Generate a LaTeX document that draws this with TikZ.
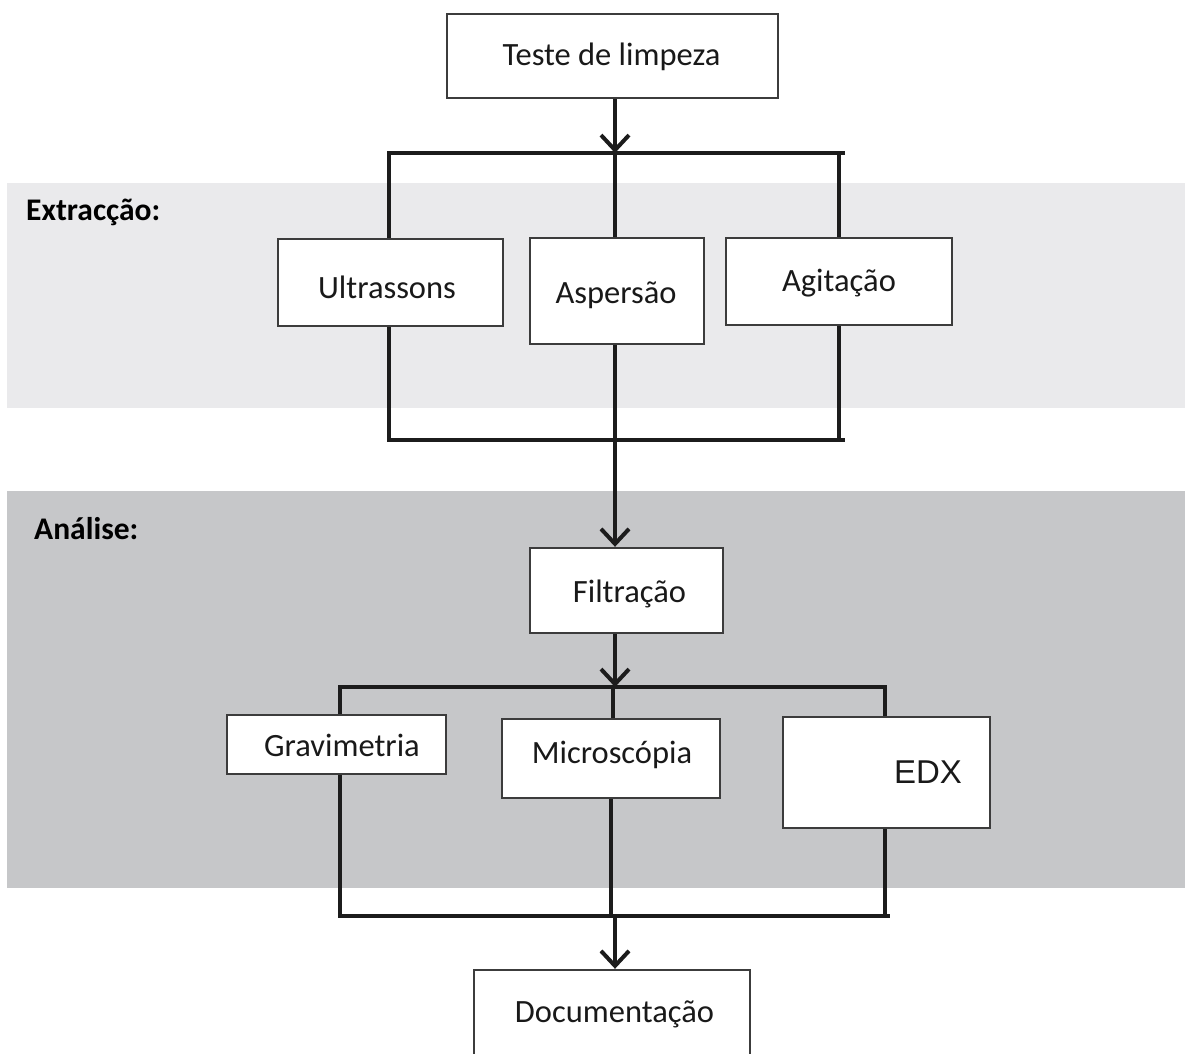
\documentclass[tikz,border=0pt]{standalone}
\usepackage{fontspec}
\setmainfont{Carlito}
\newfontfamily\edxfont{Liberation Sans}
\usetikzlibrary{arrows.meta}
\definecolor{bandlight}{HTML}{EAEAEC}
\definecolor{banddark}{HTML}{C6C7C9}
\definecolor{boxline}{HTML}{3C3C3C}
\definecolor{wireline}{HTML}{1C1C1C}

\begin{document}
\begin{tikzpicture}[x=1pt,y=-1pt,
  stepbox/.style={draw=boxline, line width=2.4pt, fill=white, inner sep=0pt},
  wire/.style={line width=4pt, draw=wireline, line join=miter},
  flow/.style={line width=4pt, draw=wireline, -{Straight Barb[length=15pt,width=28pt]}},
  boxtext/.style={font=\fontsize{32.5}{38}\selectfont, inner sep=0pt, anchor=center, text=black!90},
  bandlabel/.style={font=\fontsize{31.5}{37}\selectfont\bfseries, inner sep=0pt, anchor=west}]

\useasboundingbox (0,0) rectangle (1185,1053);
\clip (0,0) rectangle (1185,1053);

% background bands
\fill[bandlight] (7,183) rectangle (1185,408);
\fill[banddark] (7,491) rectangle (1185,888);

\node[bandlabel] (lblext) at (26,212) {Extracção:};
\node[bandlabel] (lblana) at (34,529) {Análise:};

% junction points of the bus bars
\coordinate (j1) at (615,153);
\coordinate (b1l) at (389,153);
\coordinate (b1r) at (845,153);
\coordinate (b1a) at (839,153);

\coordinate (j2) at (615,440);
\coordinate (b2l) at (389,440);
\coordinate (b2r) at (845,440);
\coordinate (b2a) at (839,440);

\coordinate (j3) at (615,687);
\coordinate (b3l) at (340,687);
\coordinate (b3r) at (885,687);
\coordinate (b3m) at (613,687);

\coordinate (j4) at (615,916);
\coordinate (b4l) at (340,916);
\coordinate (b4r) at (890,916);
\coordinate (b4m) at (611,916);
\coordinate (b4e) at (885,916);

% boxes
\node[stepbox, minimum width=331pt, minimum height=84pt] (teste) at (612.5,56) {};
\node[stepbox, minimum width=225pt, minimum height=87pt] (ultra) at (390.5,282.5) {};
\node[stepbox, minimum width=174pt, minimum height=106pt] (asp) at (617,291) {};
\node[stepbox, minimum width=226pt, minimum height=87pt] (agi) at (839,281.5) {};
\node[stepbox, minimum width=193pt, minimum height=85pt] (filt) at (626.5,590.5) {};
\node[stepbox, minimum width=219pt, minimum height=59pt] (grav) at (336.5,744.5) {};
\node[stepbox, minimum width=218pt, minimum height=79pt] (micro) at (611,758.5) {};
\node[stepbox, minimum width=207pt, minimum height=111pt] (edx) at (886.5,772.5) {};
\node[stepbox, minimum width=276pt, minimum height=110pt] (doc) at (612,1025) {};

% box texts
\node[boxtext] (tteste) at (611.5,57) {Teste de limpeza};
\node[boxtext] (tultra) at (387,287) {Ultrassons};
\node[boxtext] (tasp) at (616,295) {Aspersão};
\node[boxtext] (tagi) at (839,283) {Agitação};
\node[boxtext] (tfilt) at (629.5,594) {Filtração};
\node[boxtext] (tgrav) at (342,745) {Gravimetria};
\node[boxtext] (tmicro) at (612,755) {Microscópia};
\node[boxtext, font=\edxfont\fontsize{33}{38}\selectfont] (tedx) at (928,772) {EDX};
\node[boxtext] (tdoc) at (614.5,1014) {Documentação};

% extraction stage
\draw[flow] (teste.south -| j1) -- (j1);
\draw[wire] (ultra.north -| b1l) -- (b1l) -- (b1r);
\draw[wire] (j1) -- (asp.north -| j1);
\draw[wire] (b1a) -- (agi.north -| b1a);

\draw[wire] (ultra.south -| b2l) -- (b2l) -- (b2r);
\draw[wire] (asp.south -| j2) -- (j2);
\draw[wire] (agi.south -| b2a) -- (b2a);

% analysis stage
\draw[flow] (j2) -- (filt.north -| j2);
\draw[flow] (filt.south -| j3) -- (j3);
\draw[wire] (grav.north -| b3l) -- (b3l) -- (b3r) -- (edx.north -| b3r);
\draw[wire] (b3m) -- (micro.north -| b3m);

\draw[wire] (grav.south -| b4l) -- (b4l) -- (b4r);
\draw[wire] (micro.south -| b4m) -- (b4m);
\draw[wire] (edx.south -| b4e) -- (b4e);
\draw[flow] (j4) -- (doc.north -| j4);
\end{tikzpicture}
\end{document}
